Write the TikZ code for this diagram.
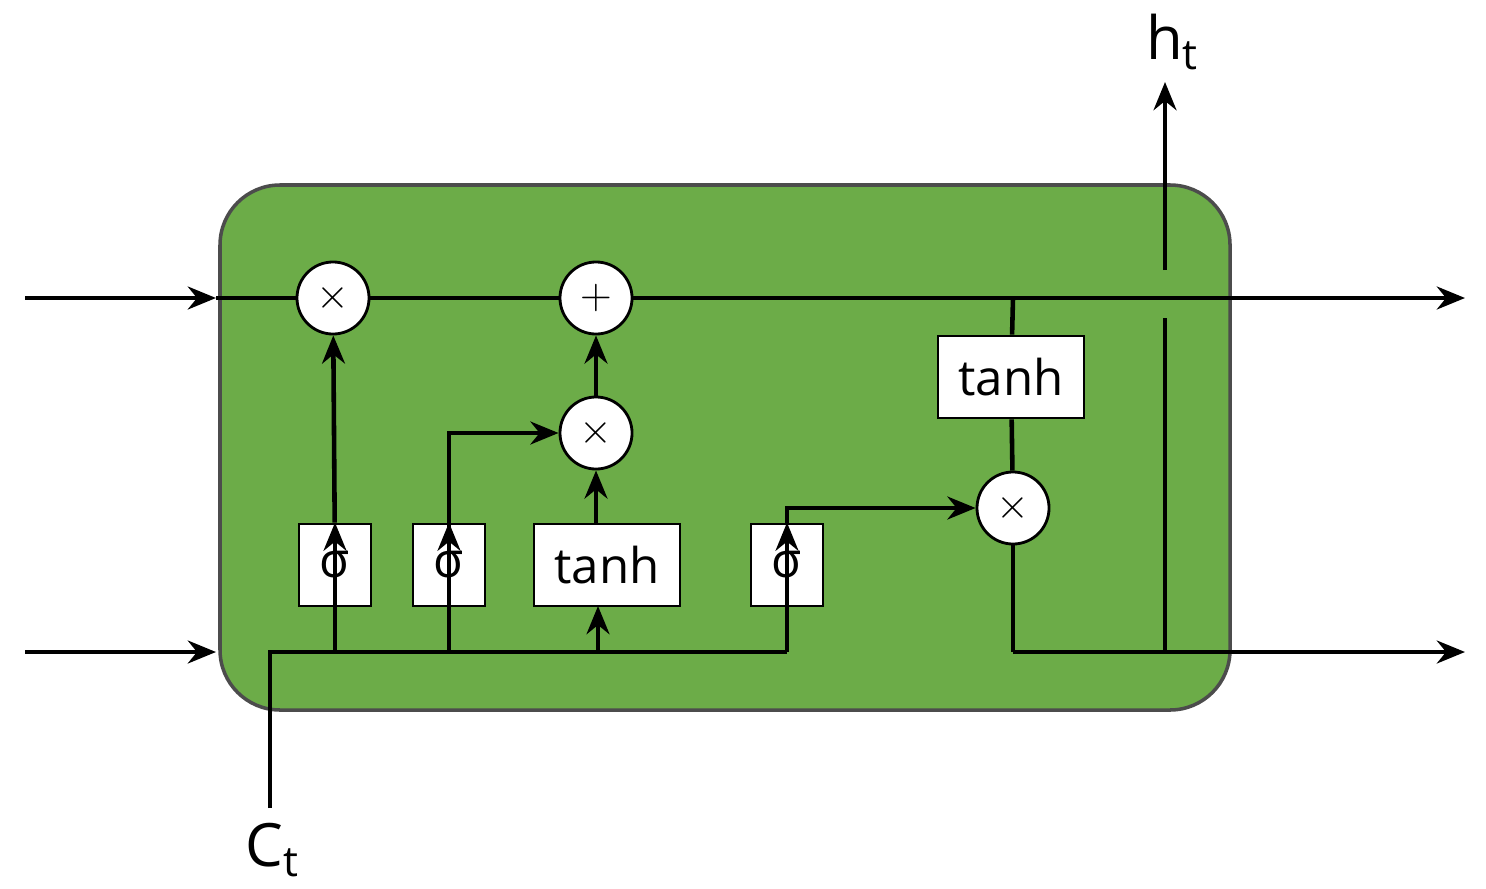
\documentclass[tikz,border=0pt]{standalone}
\usepackage{fontspec}
\setmainfont{Open Sans}
\usetikzlibrary{arrows.meta}
\begin{document}
\begin{tikzpicture}[x=0.01cm,y=-0.01cm,
  ln/.style={line width=1.3pt,black},
  ar/.style={ln,-{Stealth[length=8pt,width=6.5pt]}},
  op/.style={circle,draw=black,line width=0.8pt,fill=white,minimum size=0.72cm,inner sep=0pt,font=\fontsize{13}{13}\selectfont},
  box/.style={draw=black,line width=0.8pt,fill=white,minimum height=0.82cm,inner sep=0pt,font=\fontsize{14}{14}\selectfont},
  lbl/.style={font=\fontsize{17}{17}\selectfont}]
\useasboundingbox (0,0) rectangle (1486,888);
\definecolor{cell}{RGB}{108,172,72}
\draw[fill=cell,draw=black!70,line width=1pt,rounded corners=0.6cm] (220,185) rectangle (1230,710);
% nodes
\node[op] (m1) at (333,298) {$\times$};
\node[op] (p1) at (596,298) {$+$};
\node[op] (m2) at (596,433) {$\times$};
\node[op] (m3) at (1013,508) {$\times$};
\node[box,minimum width=0.72cm] (s1) at (335,565) {σ};
\node[box,minimum width=0.72cm] (s2) at (449,565) {σ};
\node[box,minimum width=1.46cm] (t1) at (607,565) {tanh};
\node[box,minimum width=0.72cm] (s3) at (787,565) {σ};
\node[box,minimum width=1.46cm] (t2) at (1011,377) {tanh};
\coordinate (inT) at (25,298);
\coordinate (inB) at (25,652);
\coordinate (boxL1) at (216,298);
\coordinate (boxL2) at (216,652);
\coordinate (outT) at (1465,298);
\coordinate (outB) at (1465,652);
\coordinate (ct) at (270,808);
\coordinate (bl) at (270,652);
\coordinate (br) at (787,652);
\coordinate (ht) at (1165,82);
\coordinate (tj) at (1013,298);
\coordinate (cj) at (1013,652);
% labels
\node[lbl] (ctl) at (272,850) {C\raisebox{-3pt}{\fontsize{12}{12}\selectfont t}};
\node[lbl] (htl) at (1172,42) {h\raisebox{-3pt}{\fontsize{12}{12}\selectfont t}};
% connectors
\draw[ar] (inT) -- (boxL1);
\draw[ar] (inB) -- (boxL2);
\draw[ln] (216,298) -- (m1);
\draw[ln] (m1) -- (p1);
\draw[ar] (p1) -- (outT);
\draw[ln] (ct) -- (bl) -- (br);
\draw[ar] (335,652) -- (s1.north);
\draw[ar] (449,652) -- (s2.north);
\draw[ar] (598,652) -- (598,606);
\draw[ar] (br) -- (s3.north);
\draw[ar] (s1) -- (m1);
\draw[ar] (s2.south) |- (m2.west);
\draw[ar] (596,524) -- (m2);
\draw[ar] (m2) -- (p1);
\draw[ar] (787,524) |- (m3.west);
\draw[ln] (tj) -- (t2);
\draw[ln] (t2) -- (m3);
\draw[ln] (m3) -- (cj);
\draw[ar] (cj) -- (outB);
\draw[ln] (1165,652) -- (1165,318);
\draw[ar] (1165,270) -- (ht);
\end{tikzpicture}
\end{document}
